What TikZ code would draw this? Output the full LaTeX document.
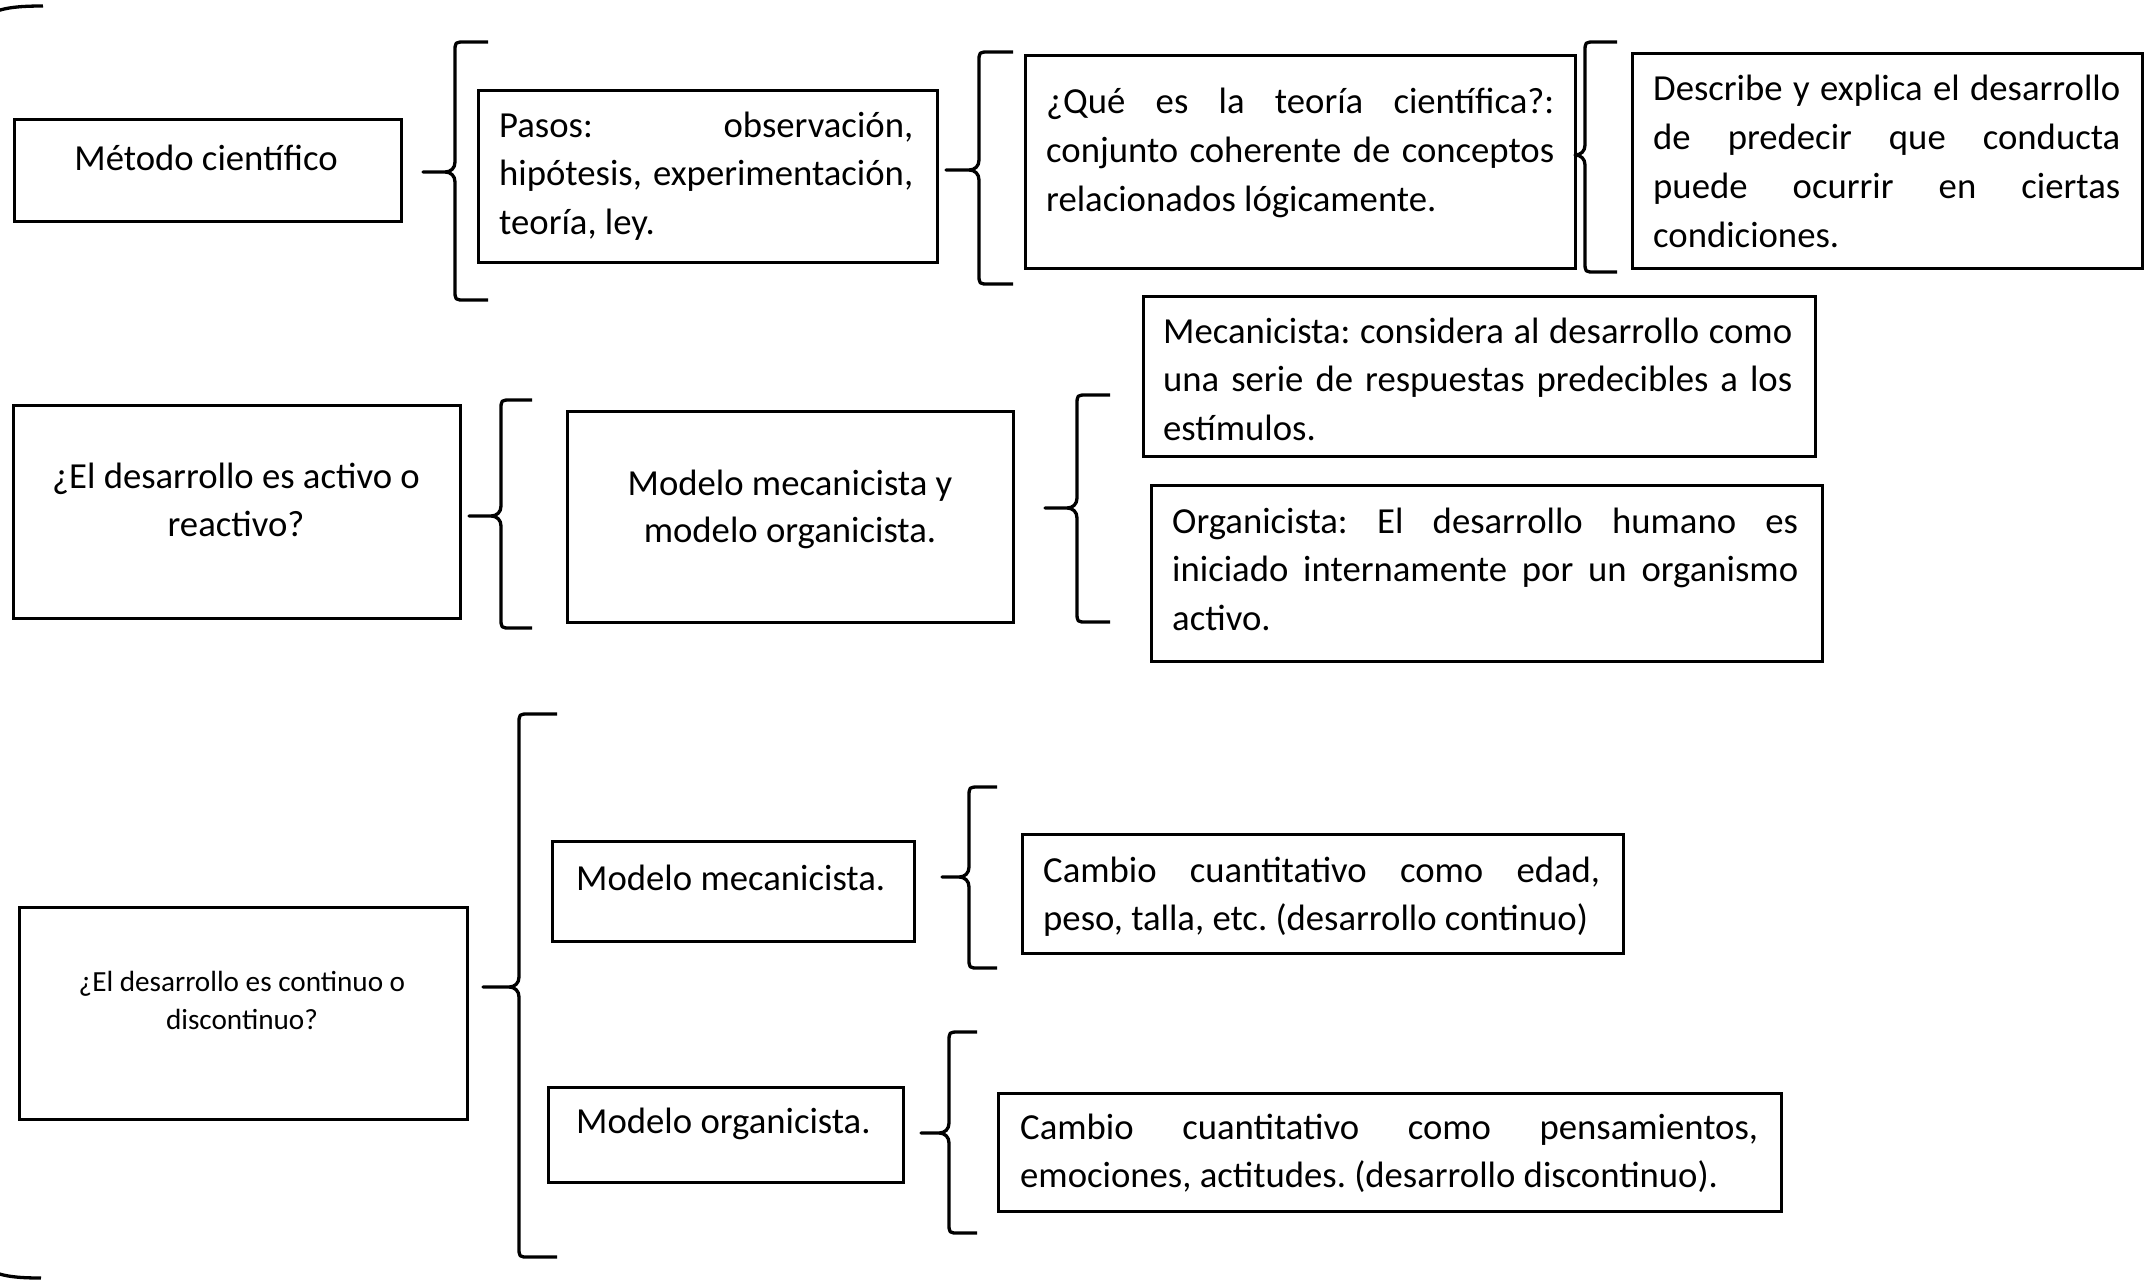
\documentclass[tikz,border=0pt]{standalone}
\usepackage{fontspec}
\setmainfont{Carlito}
\frenchspacing
\tikzset{
  box/.style={draw=black, line width=2.5pt, inner sep=0pt, anchor=north west},
  txt/.style={inner sep=0pt, font=\fontsize{36.7pt}{48.5pt}\selectfont},
  smalltxt/.style={inner sep=0pt, font=\fontsize{29.2pt}{39pt}\selectfont},
  brc/.style={line width=3.3pt, line cap=butt, line join=round},
}
% justified line, left line, centred line
\newcommand{\J}[2]{\hbox to #1pt{#2}}
\newcommand{\Lb}[1]{\hbox{#1}}
\newcommand{\C}[2]{\hbox to #1pt{\hfil#2\hfil}}
\newcommand{\tstack}[2]{\vtop{\baselineskip=#1pt\lineskiplimit=-50pt #2}}
% box by corners: name, x1, y1, x2, y2
\newcommand{\boxc}[5]{\node[box, minimum width={#4pt-#2pt}, minimum height={#5pt-#3pt}] (#1) at (#2,#3) {};}
% brace: name, stem x, top y, bottom y, cusp y, cusp x, tip x
\newcommand{\curlyb}[7]{%
  \coordinate (#1) at (#6,#5);
  \draw[brc] (#7,#3) -- ({#2+10},#3) .. controls (#2,#3) .. (#2,{#3+10})
     -- (#2,{#5-10}) .. controls (#2,{#5-4}) and ({#2-4},#5) .. ({#2-10},#5) -- (#1)
     -- ({#2-10},#5) .. controls ({#2-4},#5) and (#2,{#5+4}) .. (#2,{#5+10})
     -- (#2,{#4-10}) .. controls (#2,#4) .. ({#2+10},#4) -- (#7,#4);
}
\begin{document}
\begin{tikzpicture}[x=1pt, y=-1pt]
\useasboundingbox[fill=white] (0,0) rectangle (2150,1283);

% outer brace (only its two ends are visible)
\coordinate (outerTop) at (43,6);
\coordinate (outerBot) at (41,1278);
\draw[brc] (-30,60) .. controls (-30,12) and (-5,6) .. (outerTop);
\draw[brc] (-30,1225) .. controls (-30,1272) and (-5,1278) .. (outerBot);

% ---------- row 1 ----------
\boxc{metodo}{13}{118}{400}{220}
\node[txt, anchor=base] (metodo-t) at (206,170) {Método científico};

\curlyb{bA}{455}{42}{300}{172}{423}{488}

\boxc{pasos}{477}{89}{936}{261}
\node[txt, anchor=base west] (pasos-t) at (499,137) {\tstack{48.5}{%
  \J{414}{Pasos: observación,}%
  \J{414}{hipótesis, experimentación,}%
  \Lb{teoría, ley.}}};

\curlyb{bB}{979}{52}{284}{170}{946}{1013}

\boxc{que}{1024}{54}{1574}{267}
\node[txt, anchor=base west] (que-t) at (1046,113) {\tstack{49}{%
  \J{508}{¿Qué es la teoría científica?:}%
  \J{508}{conjunto coherente de conceptos}%
  \Lb{relacionados lógicamente.}}};

\curlyb{bC}{1585}{42}{272}{155}{1575}{1617}

\boxc{describe}{1631}{52}{2141}{267}
\node[txt, anchor=base west] (describe-t) at (1653,100) {\tstack{49}{%
  \J{467}{Describe y explica el desarrollo}%
  \J{467}{de predecir que conducta}%
  \J{467}{puede ocurrir en ciertas}%
  \Lb{condiciones.}}};

% ---------- row 2 ----------
\boxc{activo}{12}{404}{459}{617}
\node[txt, anchor=base] (activo-t) at (236,488) {\tstack{48.5}{%
  \C{440}{¿El desarrollo es activo o}%
  \C{440}{reactivo?}}};

\curlyb{bD}{501}{400}{628}{516}{469}{532}

\boxc{modeloy}{566}{410}{1012}{621}
\node[txt, anchor=base] (modeloy-t) at (790,495) {\tstack{47}{%
  \C{440}{Modelo mecanicista y}%
  \C{440}{modelo organicista.}}};

\curlyb{bE}{1077}{395}{622}{508}{1045}{1110}

\boxc{mec}{1142}{295}{1814}{455}
\node[txt, anchor=base west] (mec-t) at (1163,343) {\tstack{48.5}{%
  \J{629}{Mecanicista: considera al desarrollo como}%
  \J{629}{una serie de respuestas predecibles a los}%
  \Lb{estímulos.}}};

\boxc{org}{1150}{484}{1821}{660}
\node[txt, anchor=base west] (org-t) at (1172,533) {\tstack{48.5}{%
  \J{626}{Organicista: El desarrollo humano es}%
  \J{626}{iniciado internamente por un organismo}%
  \Lb{activo.}}};

% ---------- row 3 ----------
\boxc{continuo}{18}{906}{466}{1118}
\node[smalltxt, anchor=base] (continuo-t) at (242,991) {\tstack{38.5}{%
  \C{440}{¿El desarrollo es continuo o}%
  \C{440}{discontinuo?}}};

\curlyb{bF}{519}{714}{1257}{987}{483}{557}

\boxc{modmec}{551}{840}{913}{940}
\node[txt, anchor=base west] (modmec-t) at (576,890) {Modelo mecanicista.};

\curlyb{bG}{969}{787}{968}{877}{942}{997}

\boxc{cambio1}{1021}{833}{1622}{952}
\node[txt, anchor=base west] (cambio1-t) at (1043,882) {\tstack{48}{%
  \J{557}{Cambio cuantitativo como edad,}%
  \Lb{peso, talla, etc. (desarrollo continuo)}}};

\boxc{modorg}{547}{1086}{902}{1181}
\node[txt, anchor=base west] (modorg-t) at (576,1133) {Modelo organicista.};

\curlyb{bH}{949}{1032}{1233}{1133}{921}{977}

\boxc{cambio2}{997}{1092}{1780}{1210}
\node[txt, anchor=base west] (cambio2-t) at (1020,1139) {\tstack{48}{%
  \J{738}{Cambio cuantitativo como pensamientos,}%
  \Lb{emociones, actitudes. (desarrollo discontinuo).}}};
\end{tikzpicture}
\end{document}
